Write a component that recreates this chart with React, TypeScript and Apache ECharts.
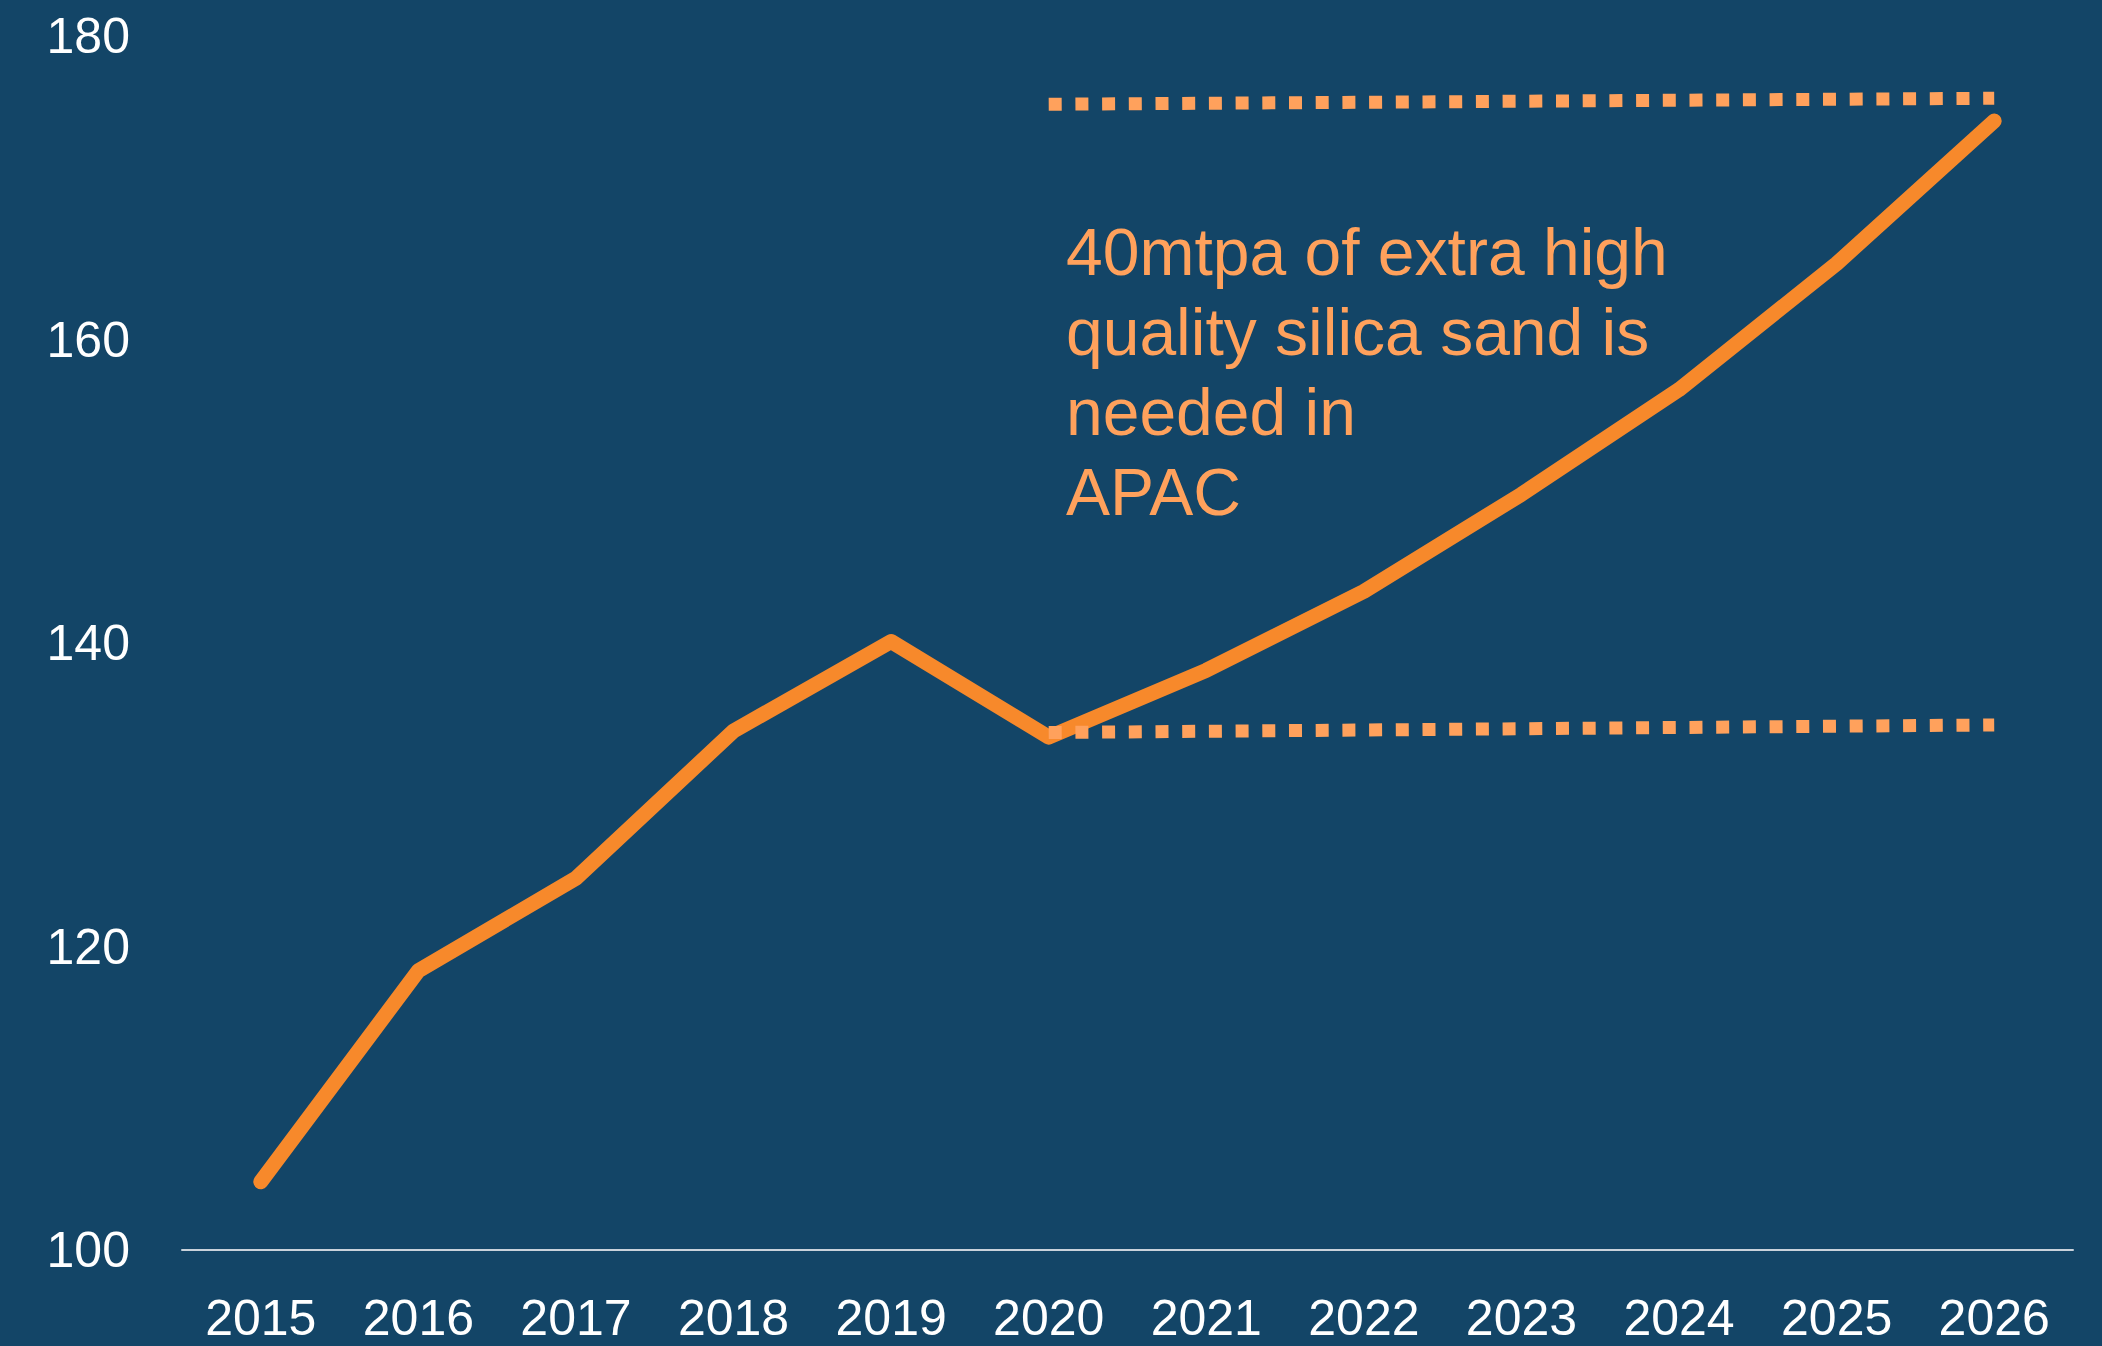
import React, { useEffect, useRef } from "react";
import * as echarts from "echarts";

const years = ["2015", "2016", "2017", "2018", "2019", "2020", "2021", "2022", "2023", "2024", "2025", "2026"];
const demand = [104.5, 118.4, 124.5, 134.2, 140.1, 133.8, 138.2, 143.4, 149.8, 156.7, 165.0, 174.4];
const upperRef: [string, number][] = [["2020", 175.5], ["2026", 175.9]];
const lowerRef: [string, number][] = [["2020", 134.1], ["2026", 134.6]];
const annotationLines = ["40mtpa of extra high", "quality silica sand is", "needed in", "APAC"];

export default function App() {
  const ref = useRef<HTMLDivElement>(null);
  useEffect(() => {
    document.body.style.margin = "0";
    const chart = echarts.init(ref.current!, null, { renderer: "svg" });
    chart.setOption({
      animation: false,
      backgroundColor: "#134567",
      grid: { left: 182, right: 29, top: 36, bottom: 96 },
      xAxis: {
        type: "category",
        data: years,
        boundaryGap: true,
        axisLine: { show: true, lineStyle: { color: "#c9d2db", width: 2 } },
        axisTick: { show: false },
        axisLabel: {
          color: "#ffffff",
          fontSize: 50,
          fontFamily: "Liberation Sans",
          margin: 43,
        },
        splitLine: { show: false },
      },
      yAxis: {
        type: "value",
        min: 100,
        max: 180,
        interval: 20,
        axisLine: { show: false },
        axisTick: { show: false },
        splitLine: { show: false },
        axisLabel: {
          color: "#ffffff",
          fontSize: 50,
          fontFamily: "Liberation Sans",
          margin: 52,
        },
      },
      series: [
        {
          type: "line",
          data: demand,
          symbol: "none",
          lineStyle: { color: "#f7892b", width: 15, cap: "round", join: "round" },
          z: 2,
        },
        {
          type: "line",
          data: upperRef,
          symbol: "none",
          lineStyle: { color: "#ffa15c", width: 13, type: [13, 13.7], cap: "butt" },
          z: 3,
        },
        {
          type: "line",
          data: lowerRef,
          symbol: "none",
          lineStyle: { color: "#ffa15c", width: 13, type: [13, 13.7], cap: "butt" },
          z: 3,
        },
      ],
      graphic: [
        {
          type: "text",
          left: 1066,
          top: 212,
          style: {
            text: annotationLines.join("\n"),
            fill: "#ffa15c",
            fontSize: 66,
            lineHeight: 80,
            fontFamily: "Liberation Sans",
          },
        },
      ],
    });
    return () => chart.dispose();
  }, []);
  return <div ref={ref} style={{ width: 2102, height: 1346 }} />;
}
